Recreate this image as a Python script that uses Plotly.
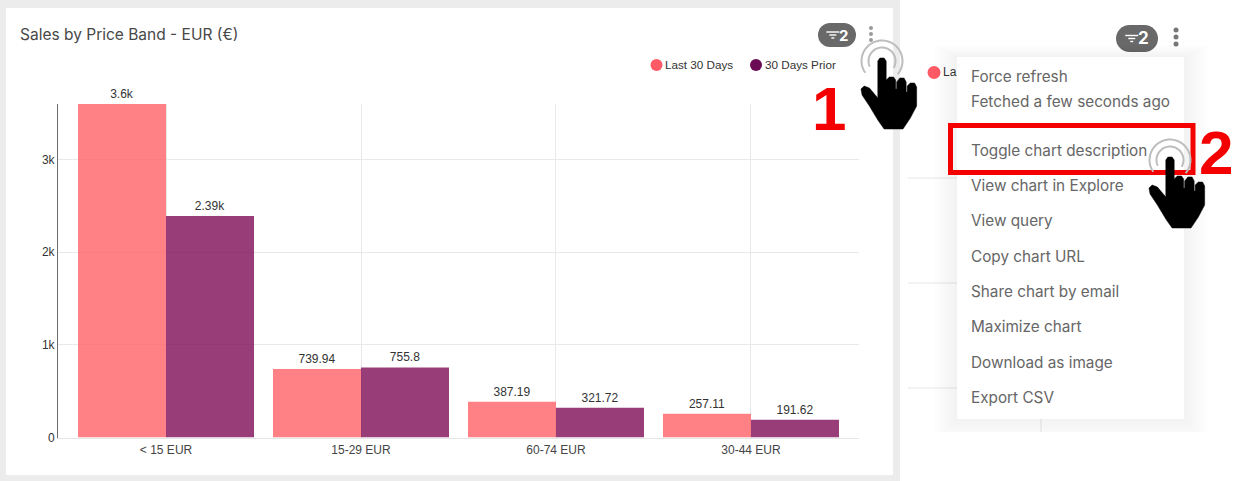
import math

import plotly.graph_objects as go

W, H = 1236, 481

# Chart data
price_bands = ["< 15 EUR", "15-29 EUR", "60-74 EUR", "30-44 EUR"]
last_30_days = [3600, 739.94, 387.19, 257.11]
days_prior = [2390, 755.8, 321.72, 191.62]
series_names = ["Last 30 Days", "30 Days Prior"]
y_ticks = [0, 1000, 2000, 3000]
menu_items = [
    ("Force refresh", 76), ("Fetched a few seconds ago", 101.5),
    ("Toggle chart description", 150), ("View chart in Explore", 185.5),
    ("View query", 220), ("Copy chart URL", 256), ("Share chart by email", 291),
    ("Maximize chart", 326), ("Download as image", 362), ("Export CSV", 397),
]


def fmt(v):
    return f"{v / 1000:.3g}k" if v >= 1000 else f"{v:g}"


def px(x):
    return x / W


def py(y):
    return 1 - y / H


shapes = []
notes = []


def rect(x0, y0, x1, y1, fill, layer="above", line=None, lw=0):
    shapes.append(dict(type="rect", xref="paper", yref="paper", layer=layer,
                       x0=px(x0), x1=px(x1), y0=py(y0), y1=py(y1),
                       fillcolor=fill, line=dict(color=line or fill, width=lw)))


def circle(cx, cy, r, fill, layer="above"):
    shapes.append(dict(type="circle", xref="paper", yref="paper", layer=layer,
                       x0=px(cx - r), x1=px(cx + r), y0=py(cy - r), y1=py(cy + r),
                       fillcolor=fill, line=dict(width=0)))


def seg(x0, y0, x1, y1, color, width=1, layer="above"):
    shapes.append(dict(type="line", xref="paper", yref="paper", layer=layer,
                       x0=px(x0), x1=px(x1), y0=py(y0), y1=py(y1),
                       line=dict(color=color, width=width)))


def text(x, y, s, size, color, family="Inter", anchor="left"):
    notes.append(dict(xref="paper", yref="paper", x=px(x), y=py(y), text=s,
                      showarrow=False, xanchor=anchor, yanchor="middle",
                      font=dict(size=size, color=color, family=family)))


def path(points, fill):
    d = "M " + " L ".join(f"{px(x):.5f},{py(y):.5f}" for x, y in points) + " Z"
    shapes.append(dict(type="path", xref="paper", yref="paper", layer="above",
                       path=d, fillcolor=fill, line=dict(color=fill, width=0.5)))


# Page frame around the dashboard card
rect(0, 0, 900, 8, "#ececec", "below")
rect(0, 475, 900, 481, "#ececec", "below")
rect(0, 0, 6, 481, "#ececec", "below")
rect(893, 0, 900, 481, "#ececec", "below")

# Card header
text(18, 34, "Sales by Price Band - EUR (€)", 15.5, "#484848")


def filter_pill(x0, x1, y0, y1, dot_x, dot_ys, dot_r, dot_color, size):
    r = (y1 - y0) / 2
    rect(x0 + r, y0, x1 - r, y1, "#696969")
    circle(x0 + r, (y0 + y1) / 2, r, "#696969")
    circle(x1 - r, (y0 + y1) / 2, r, "#696969")
    cy = (y0 + y1) / 2
    fx = x0 + (x1 - x0) * 0.22
    seg(fx, cy - 3, fx + 13, cy - 3, "#ffffff", 1.4)
    seg(fx + 3, cy, fx + 10, cy, "#ffffff", 1.4)
    seg(fx + 5, cy + 3, fx + 8, cy + 3, "#ffffff", 1.4)
    notes.append(dict(xref="paper", yref="paper", x=px(x1 - r - 1), y=py(cy), text="<b>2</b>",
                      showarrow=False, xanchor="center", yanchor="middle",
                      font=dict(size=size, color="#ffffff", family="Inter")))
    for dy in dot_ys:
        circle(dot_x, dy, dot_r, dot_color)


filter_pill(818, 856, 23, 47, 871, [28, 34, 40], 2, "#9a9a9a", 15)
filter_pill(1116, 1158, 25, 52, 1176, [30, 37, 44], 2.5, "#777777", 17)

# Legend
circle(656.5, 65, 6, "#ff5a66")
text(663, 65, series_names[0], 11.7, "#333333", "Liberation Sans")
circle(756, 65, 6, "#6b0a55")
text(763, 65, series_names[1], 11.7, "#333333", "Liberation Sans")

# Partly hidden copy of the chart behind the dropdown menu
for gy in (178, 283, 388):
    seg(908, gy, 960, gy, "#e6e6e6", 1, "below")
seg(1041, 415, 1041, 432, "#e6e6e6", 1, "below")
circle(934, 72.5, 6.5, "#ff5a66", "below")
text(941, 72.5, "La", 12, "#333333", "Liberation Sans")

# Dropdown menu with a soft drop shadow
for i in range(12, 0, -1):
    x0, x1 = 957 - i * 2, 1184 + i * 2
    y0, y1 = 57 - i, min(419 + i * 2, 432)
    rect(x0, y0, x1, y1, "rgba(0,0,0,0.005)")
rect(957, 57, 1184, 419, "#ffffff")
for label, y in menu_items:
    text(969, y, label, 15.3, "#666666")

# Highlight around the menu entry
rect(950.5, 125.5, 1193, 172.5, "rgba(0,0,0,0)", line="#f50000", lw=5)

# Step numbers
text(829, 108, "<b>1</b>", 62, "#f50000", "Liberation Sans", "center")
text(1216, 152, "<b>2</b>", 62, "#f50000", "Liberation Sans", "center")

# Pointer icon outline, relative to the fingertip
HAND = [
    (-4, 3), (-2, 0), (2, 0), (4, 3), (4, 22), (5, 21), (7, 19), (11, 19), (13, 22),
    (13, 31), (14, 31), (14, 24), (17, 20), (21, 20), (23, 24), (23, 34), (24, 34),
    (24, 28), (27, 25), (31, 25), (33, 29), (33, 48), (27, 60), (20, 71), (2, 71),
    (-4, 62), (-12, 48), (-19, 37), (-20, 31), (-17, 28), (-12, 30), (-4, 40),
]


def arc(cx, cy, r, start, stop, color, width):
    n = 30
    pts = []
    for i in range(n + 1):
        a = math.radians(start + (stop - start) * i / n)
        pts.append(f"{px(cx + r * math.cos(a)):.5f},{py(cy - r * math.sin(a)):.5f}")
    shapes.append(dict(type="path", xref="paper", yref="paper", layer="above",
                       path="M " + " L ".join(pts), line=dict(color=color, width=width),
                       fillcolor="rgba(0,0,0,0)"))


def pointer(tip_x, tip_y):
    arc(tip_x, tip_y + 3, 20.5, -40, 215, "#bdbdbd", 2)
    arc(tip_x, tip_y + 3, 13.5, -30, 205, "#bdbdbd", 2)
    path([(tip_x + dx * 1.05, tip_y + dy) for dx, dy in HAND], "#000000")


pointer(882, 58)
pointer(1170, 157)

# Bars
fig = go.Figure()
fig.add_bar(x=price_bands, y=last_30_days, name=series_names[0],
            marker=dict(color="#ff6066", opacity=0.8, line=dict(width=0)),
            text=[fmt(v) for v in last_30_days])
fig.add_bar(x=price_bands, y=days_prior, name=series_names[1],
            marker=dict(color="#800d57", opacity=0.8, line=dict(width=0)),
            text=[fmt(v) for v in days_prior])
fig.update_traces(textposition="outside", cliponaxis=False, textangle=0,
                  textfont=dict(size=12, color="#333333", family="Liberation Sans"),
                  hoverinfo="skip")

fig.update_layout(
    width=W, height=H, margin=dict(l=0, r=0, t=0, b=0, pad=0),
    paper_bgcolor="#ffffff", plot_bgcolor="rgba(0,0,0,0)",
    showlegend=False, barmode="group", bargap=0.0974, bargroupgap=0,
    shapes=shapes, annotations=notes,
    font=dict(family="Liberation Sans", size=12, color="#333333"),
    xaxis=dict(domain=[px(58), px(859)], range=[-0.554, 3.554], type="category",
               automargin=False,
               categoryorder="array", categoryarray=price_bands,
               showgrid=True, gridcolor="#e9e9e9", gridwidth=1,
               showline=True, linecolor="#e6e6e6", ticks="", ticklabelstandoff=1,
               tickfont=dict(size=12, color="#444444")),
    yaxis=dict(domain=[py(437.5), py(104)], range=[0, 3600], tickvals=y_ticks,
               automargin=False,
               tickformat="~s", showgrid=True, gridcolor="#e9e9e9", gridwidth=1,
               zeroline=False, showline=True, linecolor="#6e6e6e", linewidth=1,
               ticks="", tickfont=dict(size=12, color="#333333")),
)

fig.write_html("out.html")
